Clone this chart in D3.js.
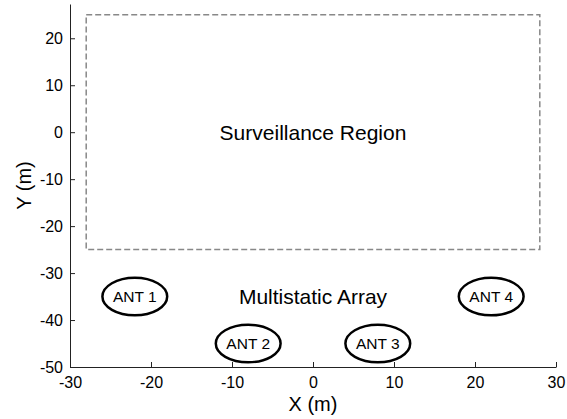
<!DOCTYPE html>
<html><head><meta charset="utf-8">
<script src="https://cdn.jsdelivr.net/npm/d3@7"></script>
<style>body{margin:0;background:#fff}svg{display:block;font-family:"Liberation Sans",Arial,sans-serif}</style>
</head><body>
<script>
const xTicks = [-30,-20,-10,0,10,20,30];
const yTicks = [-50,-40,-30,-20,-10,0,10,20];
const region = {x0:-28, x1:28, y0:-25, y1:25};
const antNames = ["ANT 1","ANT 2","ANT 3","ANT 4"];
const antX = [-22,-8,8,22];
const antY = [-35,-45,-45,-35];
const antR = [4,4,4,4];
const labels = [{t:"Surveillance Region", x:0, y:0},{t:"Multistatic Array", x:0, y:-35}];

const W=567,H=419;
const svg=d3.select("body").append("svg").attr("width",W).attr("height",H);
const x=d3.scaleLinear().domain([-30,30]).range([70,556]);
const y=d3.scaleLinear().domain([-50,27.3]).range([367,4]);

// axes
const fmt=d=>String(d);
const gx=svg.append("g").attr("transform","translate(0,367)")
  .call(d3.axisBottom(x).tickValues(xTicks).tickFormat(fmt).tickSizeInner(-5).tickSizeOuter(0).tickPadding(10));
const gy=svg.append("g").attr("transform","translate(70,0)")
  .call(d3.axisLeft(y).tickValues(yTicks).tickFormat(fmt).tickSizeInner(-5).tickSizeOuter(0).tickPadding(7));
[gx,gy].forEach(g=>{
  g.select(".domain").attr("stroke","#222").attr("stroke-width",1);
  g.selectAll(".tick line").attr("stroke","#222");
  g.selectAll(".tick text").attr("font-size",16).attr("fill","#000").attr("font-family","Liberation Sans, Arial, sans-serif");
});
gx.selectAll(".tick text").attr("dy","0.71em");

// region rect
svg.append("rect")
  .attr("x",x(region.x0)).attr("y",y(region.y1))
  .attr("width",x(region.x1)-x(region.x0)).attr("height",y(region.y0)-y(region.y1))
  .attr("fill","none").attr("stroke","#888").attr("stroke-width",1.5).attr("stroke-dasharray","6,3");

// antennas
const ants=antNames.map((n,i)=>({n,x:antX[i],y:antY[i],r:antR[i]}));
svg.selectAll("ellipse.ant").data(ants).join("ellipse").attr("class","ant")
  .attr("cx",d=>x(d.x)).attr("cy",d=>y(d.y))
  .attr("rx",d=>x(d.r)-x(0)).attr("ry",d=>y(0)-y(d.r))
  .attr("fill","none").attr("stroke","#000").attr("stroke-width",2.5);
svg.selectAll("text.ant").data(ants).join("text").attr("class","ant")
  .attr("x",d=>x(d.x)).attr("y",d=>y(d.y)).attr("dy","0.36em")
  .attr("text-anchor","middle").attr("font-size",15.5).text(d=>d.n);

svg.selectAll("text.lab").data(labels).join("text").attr("class","lab")
  .attr("x",d=>x(d.x)).attr("y",d=>y(d.y)).attr("dy","0.36em")
  .attr("text-anchor","middle").attr("font-size",21).text(d=>d.t);

svg.append("text").attr("x",x(0)).attr("y",411).attr("text-anchor","middle")
  .attr("font-size",20).text("X (m)");
svg.append("text").attr("transform",`translate(31,${(4+367)/2}) rotate(-90)`).attr("text-anchor","middle")
  .attr("font-size",20).text("Y (m)");
</script>
</body></html>
